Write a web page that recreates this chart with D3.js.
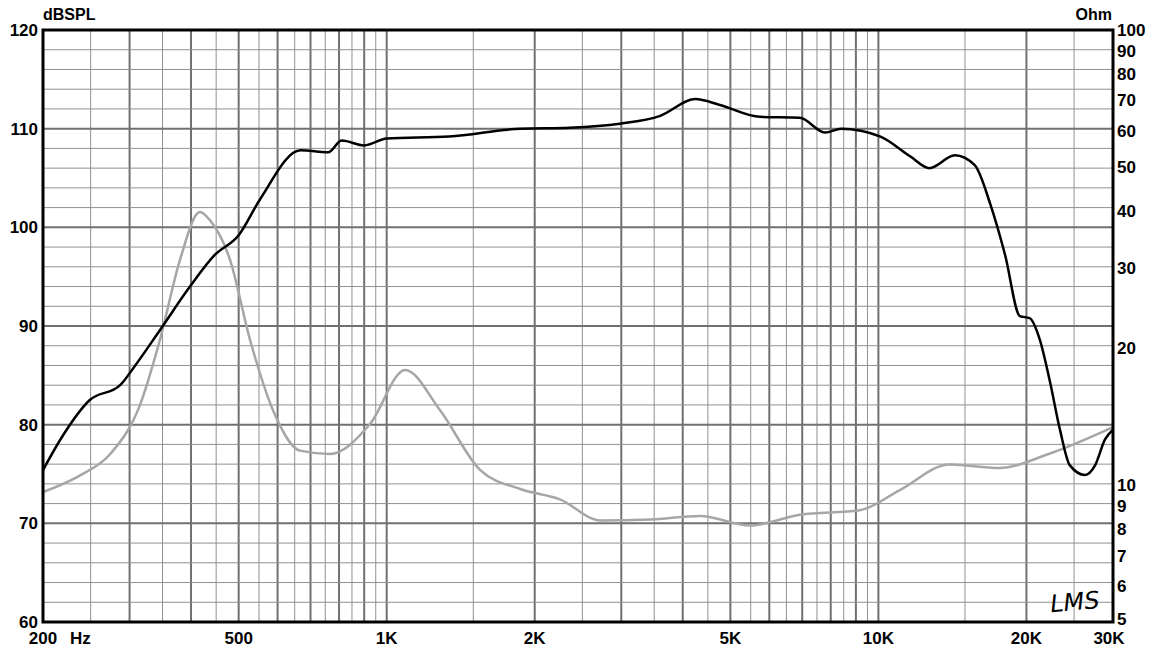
<!DOCTYPE html>
<html><head><meta charset="utf-8">
<script src="https://cdn.jsdelivr.net/npm/d3@7"></script>
<style>body{margin:0;background:#fff}svg text{font-family:Arial,"Liberation Sans",sans-serif;font-weight:bold;fill:#000}</style>
</head><body><svg id="c" width="1163" height="665"></svg>
<script>
// SPL response (black)
const splFreq = [200,217,249,287,308,346,398,447,500,552,668,760,810,900,1000,1340,1870,2356,2980,3600,4240,4760,5740,6920,7800,8400,10100,11600,12700,14300,15700,16900,18100,19400,20300,21300,22300,23400,24500,26300,27600,28900,30000];
const splDb   = [75.4,78.5,82.5,84,86,89.6,94,97.2,99.2,102.8,107.8,107.6,108.8,108.3,109,109.2,110,110.1,110.5,111.3,113,112.4,111.2,111.1,109.6,110,109.2,107.2,106,107.3,106.3,102.3,97.2,91,90.8,88.6,84.5,79.5,75.9,74.9,75.9,78.5,79.5];
// impedance (grey)
const impFreq = [200,238,274,315,346,380,417,437,480,527,592,666,766,924,1090,1284,1548,1870,2250,2720,3440,4340,5480,6920,9160,11060,13940,17600,22200,30000];
const impOhm  = [9.65,10.5,11.7,15,20.9,31.3,39.8,38.2,31.3,20.9,14.3,11.9,11.7,13.6,17.9,14.6,10.8,9.8,9.3,8.36,8.4,8.55,8.15,8.6,8.8,9.75,11.1,10.9,11.7,13.4];
const dbTicks = [60,70,80,90,100,110,120];
const ohmTicks = [5,6,7,8,9,10,20,30,40,50,60,70,80,90,100];
const freqLabels = [[500,'500'],[1000,'1K'],[2000,'2K'],[5000,'5K'],[10000,'10K'],[20000,'20K'],[30000,'30K']];

const L=43,R=1113,T=30,B=622;
const svg=d3.select('#c');
const x=d3.scaleLog().domain([200,30000]).range([L,R]);
const y=d3.scaleLinear().domain([60,120]).range([B,T]);
const yo=d3.scaleLog().domain([5,100]).range([B,T]);

// grid
const vlines=[];
for(let f=250;f<1000;f+=50) vlines.push(f);
for(let f=1000;f<10000;f+=500) vlines.push(f);
for(let f=10000;f<30000;f+=5000) vlines.push(f);
const isMajor=f=>{const p=Math.pow(10,Math.floor(Math.log10(f)));return Math.abs(f/p-Math.round(f/p))<1e-9;};
svg.append('g').selectAll('line').data(vlines).join('line')
  .attr('x1',d=>x(d)).attr('x2',d=>x(d)).attr('y1',T).attr('y2',B)
  .attr('stroke',d=>isMajor(d)?'#707070':'#909090').attr('stroke-width',d=>isMajor(d)?2:1);
svg.append('g').selectAll('line').data(d3.range(62,120,2)).join('line')
  .attr('x1',L).attr('x2',R).attr('y1',d=>y(d)).attr('y2',d=>y(d))
  .attr('stroke',d=>d%10===0?'#707070':'#909090').attr('stroke-width',d=>d%10===0?2:1);

const line=(xs,ys,sy)=>d3.line().curve(d3.curveMonotoneX)(xs.map((f,i)=>[x(f),sy(ys[i])]));
svg.append('path').attr('d',line(impFreq,impOhm,yo)).attr('fill','none').attr('stroke','#a6a6a6').attr('stroke-width',2.5);
svg.append('path').attr('d',line(splFreq,splDb,y)).attr('fill','none').attr('stroke','#000').attr('stroke-width',2.5);

svg.append('rect').attr('x',L).attr('y',T).attr('width',R-L).attr('height',B-T).attr('fill','none').attr('stroke','#000').attr('stroke-width',3);

// labels
svg.append('g').selectAll('text').data(dbTicks).join('text')
  .attr('x',38).attr('y',d=>y(d)+6).attr('text-anchor','end').attr('font-size',17).text(d=>d);
svg.append('g').selectAll('text').data(ohmTicks).join('text')
  .attr('x',1117).attr('y',d=>yo(d)+(d===5?3:6)).attr('font-size',17).text(d=>d);
svg.append('g').selectAll('text').data(freqLabels).join('text')
  .attr('x',d=>d[0]===30000?x(d[0])-4:x(d[0])).attr('y',644).attr('text-anchor','middle').attr('font-size',17).text(d=>d[1]);
svg.append('text').attr('x',L).attr('y',644).attr('text-anchor','middle').attr('font-size',17).text('200');
svg.append('text').attr('x',70).attr('y',644).attr('font-size',17).text('Hz');
svg.append('text').attr('x',43).attr('y',20).attr('font-size',16).text('dBSPL');
svg.append('text').attr('x',1112).attr('y',20).attr('text-anchor','end').attr('font-size',16).text('Ohm');
svg.append('text').attr('x',1050).attr('y',610).attr('font-size',24).attr('font-style','italic')
  .style('font-weight','normal').style('font-family','DejaVu Sans').attr('transform','rotate(-5,1075,600)').text('LMS');
</script></body></html>
